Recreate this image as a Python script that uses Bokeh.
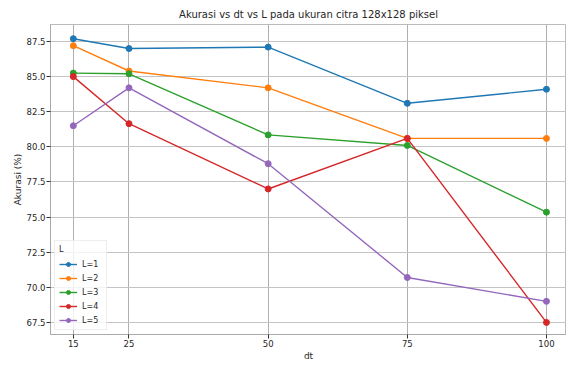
from bokeh.plotting import figure
from bokeh.embed import file_html
from bokeh.resources import INLINE
from bokeh.models import FixedTicker, PrintfTickFormatter, Range1d

dt = [15, 25, 50, 75, 100]
acc_L1 = [87.7, 87.0, 87.1, 83.1, 84.1]
acc_L2 = [87.2, 85.4, 84.2, 80.6, 80.6]
acc_L3 = [85.25, 85.2, 80.85, 80.1, 75.35]
acc_L4 = [85.0, 81.65, 77.0, 80.6, 67.5]
acc_L5 = [81.5, 84.2, 78.8, 70.7, 69.0]
labels = ["L=1", "L=2", "L=3", "L=4", "L=5"]
series = [acc_L1, acc_L2, acc_L3, acc_L4, acc_L5]
colors = ["#1f77b4", "#ff7f0e", "#2ca02c", "#d62728", "#9467bd"]
y_ticks = [67.5, 70.0, 72.5, 75.0, 77.5, 80.0, 82.5, 85.0, 87.5]

FONT = "DejaVu Sans"
TXT = "#262626"

p = figure(width=566, height=363, output_backend="svg", toolbar_location=None,
           title="Akurasi vs dt vs L pada ukuran citra 128x128 piksel",
           x_range=Range1d(10.9, 103.6), y_range=Range1d(66.64, 88.71),
           min_border_left=50, min_border_top=24, min_border_right=0, min_border_bottom=0)

p.title.align = "center"
p.title.text_font = FONT
p.title.text_font_size = "10px"
p.title.text_font_style = "normal"
p.title.text_color = TXT

for vals, lab, c in zip(series, labels, colors):
    p.line(dt, vals, line_color=c, line_width=1.4, legend_label=lab)
    p.scatter(dt, vals, size=6, fill_color=c, line_color=c, legend_label=lab)

p.xaxis.ticker = FixedTicker(ticks=dt)
p.yaxis.ticker = FixedTicker(ticks=y_ticks)
p.yaxis.formatter = PrintfTickFormatter(format="%.1f")
p.xaxis.axis_label = "dt"
p.yaxis.axis_label = "Akurasi (%)"

for ax in (p.xaxis, p.yaxis):
    ax.axis_label_text_font = FONT
    ax.axis_label_text_font_size = "9px"
    ax.axis_label_text_font_style = "normal"
    ax.axis_label_text_color = TXT
    ax.major_label_text_font = FONT
    ax.major_label_text_font_size = "8.5px"
    ax.major_label_text_color = TXT
    ax.axis_line_color = "#aaaaaa"
    ax.major_tick_line_color = "#333333"
    ax.major_tick_in = 0
    ax.major_tick_out = 4
    ax.minor_tick_line_color = None
    ax.major_label_standoff = 1
    ax.axis_label_standoff = 1

p.xgrid.grid_line_color = "#b0b0b0"
p.ygrid.grid_line_color = "#c4c4c4"
p.xgrid.grid_line_width = 1
p.ygrid.grid_line_width = 1
p.outline_line_color = "#bbbbbb"

p.legend.location = "bottom_left"
p.legend.title = "L"
p.legend.title_text_font = FONT
p.legend.title_text_font_size = "8px"
p.legend.title_text_color = TXT
p.legend.title_text_font_style = "normal"
p.legend.label_text_font = FONT
p.legend.label_text_font_size = "8px"
p.legend.label_text_color = TXT
p.legend.glyph_width = 18
p.legend.glyph_height = 10
p.legend.label_height = 10
p.legend.spacing = 4
p.legend.padding = 4
p.legend.margin = 4
p.legend.border_line_color = "#dddddd"
p.legend.background_fill_alpha = 0.8

open("out.html", "w").write(file_html(p, INLINE))
